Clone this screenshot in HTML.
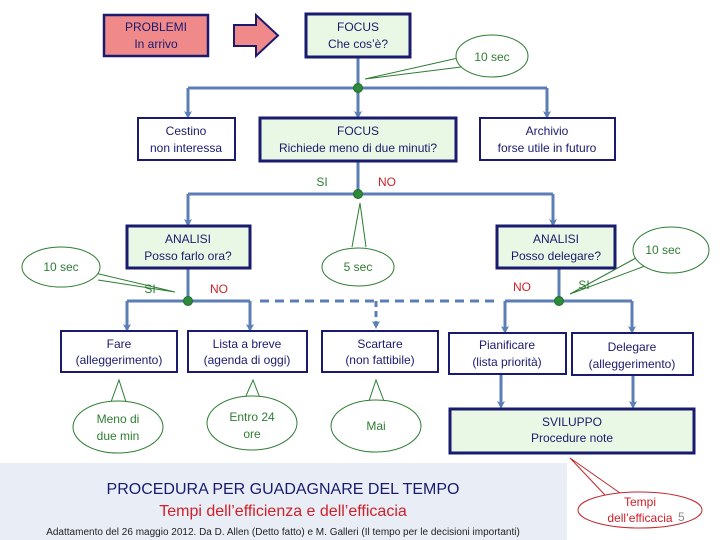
<!DOCTYPE html>
<html><head><meta charset="utf-8"><style>
html,body{margin:0;padding:0;background:#fff;}
svg{display:block;}
text{font-family:"Liberation Sans",sans-serif;}
</style></head><body>
<svg width="720" height="540" viewBox="0 0 720 540" xmlns="http://www.w3.org/2000/svg">
<defs>
<marker id="ar" markerWidth="8" markerHeight="8" refX="4" refY="4" orient="auto" markerUnits="userSpaceOnUse">
<path d="M0,0 L8,4 L0,8 L2,4 Z" fill="#5b7fb5"/></marker>
</defs>
<rect width="720" height="540" fill="#fff"/>
<!-- bottom band -->
<rect x="0" y="463" width="567" height="77" fill="#e9eef6"/>
<g stroke="#5b7fb5" stroke-width="3" fill="none">
<path d="M358,57 V88"/>
<path d="M188,88 H547"/>
<path d="M188,88 V115" marker-end="url(#ar)"/>
<path d="M358,88 V115" marker-end="url(#ar)"/>
<path d="M547,88 V115" marker-end="url(#ar)"/>
<path d="M358,161 V194"/>
<path d="M188,194 H553"/>
<path d="M188,194 V223" marker-end="url(#ar)"/>
<path d="M553,194 V223" marker-end="url(#ar)"/>
<path d="M188,268 V301"/>
<path d="M559,268 V301"/>
<path d="M127,301 H250"/>
<path d="M505,301 H632"/>
<path d="M127,301 V328" marker-end="url(#ar)"/>
<path d="M250,301 V328" marker-end="url(#ar)"/>
<path d="M505,301 V330" marker-end="url(#ar)"/>
<path d="M632,301 V330" marker-end="url(#ar)"/>
<path d="M260,301 H498" stroke-dasharray="9,6"/>
<path d="M376,301 V325" stroke-dasharray="6,4" marker-end="url(#ar)"/>
<path d="M501,374 V405" marker-end="url(#ar)"/>
<path d="M633,375 V405" marker-end="url(#ar)"/>
</g>
<!-- nodes -->
<g fill="#2e8b3a" stroke="#1e6b2a" stroke-width="1">
<circle cx="358" cy="88" r="4.5"/><circle cx="358" cy="194" r="4.5"/>
<circle cx="188" cy="301" r="4.5"/><circle cx="559" cy="301" r="4.5"/>
</g>
<!-- top -->
<rect x="104" y="15" width="104" height="41" fill="#f08a8a" stroke="#1a1a6e" stroke-width="2.5"/>
<polygon points="234,25 256,25 256,15 278,35.5 256,56 256,46 234,46" fill="#f08a8a" stroke="#1a1a6e" stroke-width="2"/>
<g fill="#e8f8e4" stroke="#1a1a6e" stroke-width="3">
<rect x="306" y="14" width="104" height="43"/>
<rect x="260" y="118" width="196" height="43"/>
<rect x="127" y="226" width="123" height="42"/>
<rect x="497" y="226" width="118" height="42"/>
<rect x="450" y="409" width="244" height="44"/>
</g>
<g fill="#fff" stroke="#1a1a6e" stroke-width="2">
<rect x="138" y="118" width="97" height="42"/>
<rect x="480" y="118" width="135" height="42"/>
<rect x="61" y="331" width="116" height="41"/>
<rect x="188" y="331" width="119" height="41"/>
<rect x="322" y="331" width="116" height="41"/>
<rect x="449" y="333" width="117" height="41"/>
<rect x="572" y="333" width="121" height="42"/>
</g>
<!-- callouts -->
<g fill="#fff" stroke="#2e7d32" stroke-width="1">
<path d="M458,58 L365,79 L461,67"/>
<ellipse cx="492" cy="56" rx="36" ry="21"/>
<path d="M352,247 L360,203 L366,247"/>
<ellipse cx="358" cy="267" rx="36" ry="19"/>
<path d="M95,273 L175,292 L98,280"/>
<ellipse cx="61" cy="267" rx="39" ry="20"/>
<path d="M636,258 L570,294 L645,266"/>
<ellipse cx="671" cy="250" rx="38" ry="23"/>
<path d="M111,402 L119,380 L126,402"/>
<ellipse cx="118" cy="427" rx="45" ry="26"/>
<path d="M245,398 L253,380 L260,398"/>
<ellipse cx="252" cy="423" rx="45" ry="27"/>
<path d="M369,401 L376,380 L384,401"/>
<ellipse cx="376" cy="426" rx="45" ry="26"/>
</g>
<g fill="#fff" stroke="#c0282d" stroke-width="1">
<path d="M605,495 L570,458 L620,493"/>
<ellipse cx="640" cy="510" rx="62" ry="18"/>
</g>
<!-- text -->
<g font-size="12" fill="#1a1a6e" text-anchor="middle">
<text x="156" y="31">PROBLEMI</text><text x="156" y="48">In arrivo</text>
<text x="358" y="31">FOCUS</text><text x="358" y="48">Che cos’è?</text>
<text x="186" y="135">Cestino</text><text x="186" y="152">non interessa</text>
<text x="358" y="135">FOCUS</text><text x="358" y="152">Richiede meno di due minuti?</text>
<text x="547" y="135">Archivio</text><text x="547" y="152">forse utile in futuro</text>
<text x="188" y="243">ANALISI</text><text x="188" y="260">Posso farlo ora?</text>
<text x="556" y="243">ANALISI</text><text x="556" y="260">Posso delegare?</text>
<text x="119" y="348">Fare</text><text x="119" y="364">(alleggerimento)</text>
<text x="247" y="348">Lista a breve</text><text x="247" y="364">(agenda di oggi)</text>
<text x="380" y="348">Scartare</text><text x="380" y="364">(non fattibile)</text>
<text x="507" y="349">Pianificare</text><text x="507" y="366">(lista priorità)</text>
<text x="632" y="351">Delegare</text><text x="632" y="368">(alleggerimento)</text>
<text x="572" y="426">SVILUPPO</text><text x="572" y="442">Procedure note</text>
</g>
<g font-size="12" fill="#2e7d32" text-anchor="middle">
<text x="492" y="61">10 sec</text>
<text x="358" y="271">5 sec</text>
<text x="61" y="271">10 sec</text>
<text x="663" y="254">10 sec</text>
<text x="118" y="423">Meno di</text><text x="118" y="440">due min</text>
<text x="252" y="421">Entro 24</text><text x="252" y="438">ore</text>
<text x="376" y="430">Mai</text>
<text x="322" y="186">SI</text><text x="150" y="293">SI</text><text x="584" y="289">SI</text>
</g>
<g font-size="12" fill="#d0202a" text-anchor="middle">
<text x="387" y="186">NO</text><text x="219" y="293">NO</text><text x="522" y="291">NO</text>
<text x="640" y="506">Tempi</text><text x="640" y="522">dell’efficacia</text>
</g>
<text x="678" y="521" font-size="12" fill="#888">5</text>
<text x="283" y="494" font-size="16" fill="#1a1a6e" text-anchor="middle">PROCEDURA PER GUADAGNARE DEL TEMPO</text>
<text x="283" y="516" font-size="16" fill="#d0202a" text-anchor="middle">Tempi dell’efficienza e dell’efficacia</text>
<text x="283" y="535" font-size="10" fill="#222" text-anchor="middle">Adattamento del 26 maggio 2012. Da D. Allen (Detto fatto) e M. Galleri (Il tempo per le decisioni importanti)</text>
</svg>
</body></html>
